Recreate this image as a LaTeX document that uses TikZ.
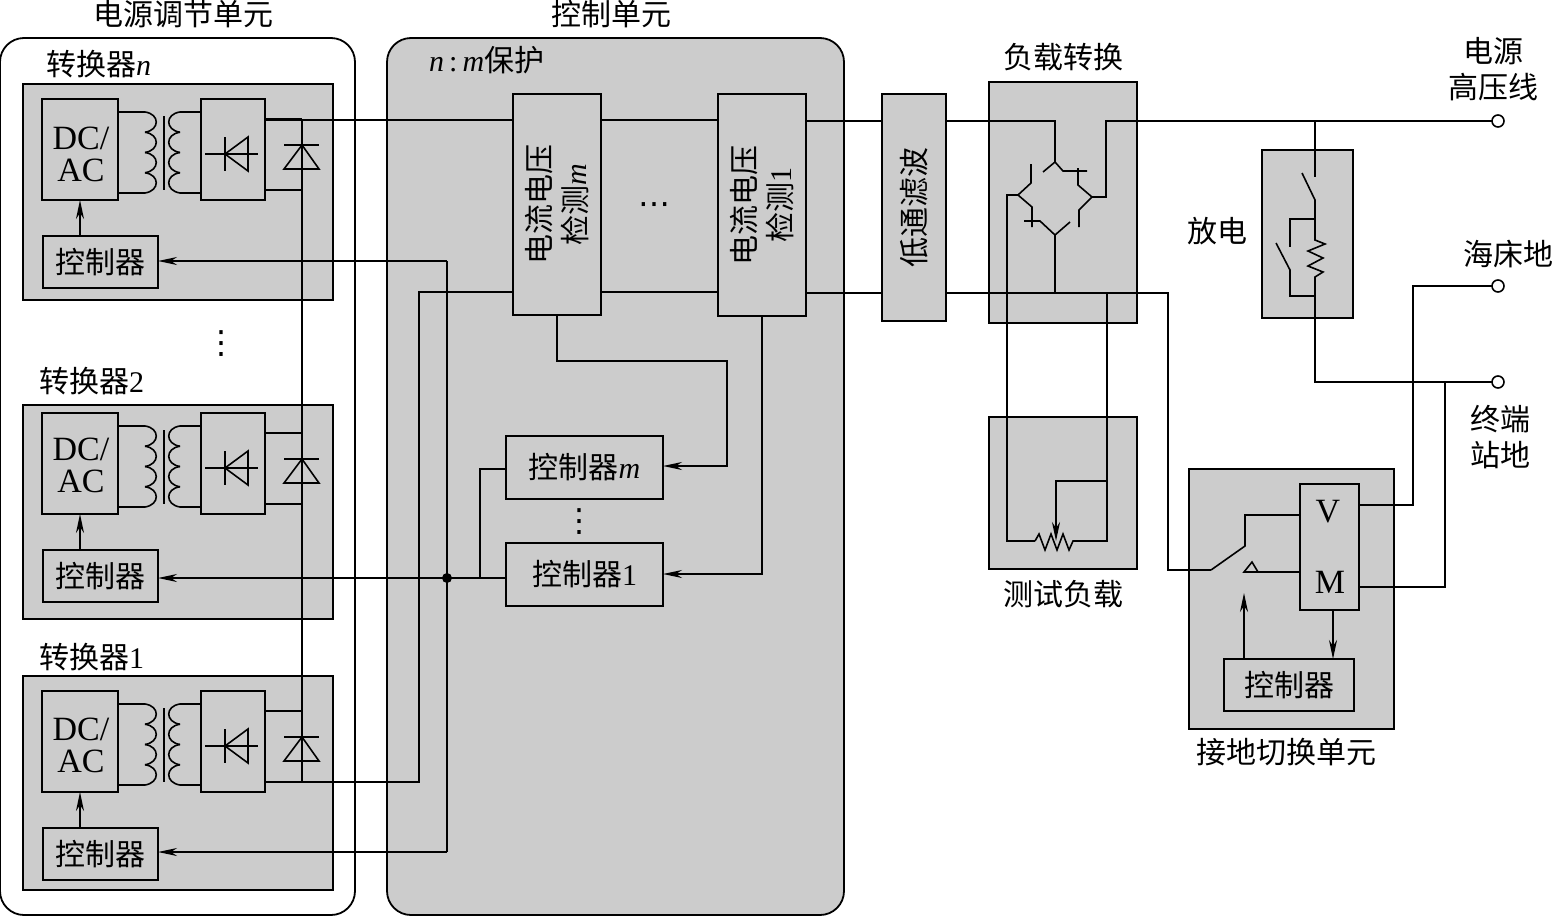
\documentclass[tikz,border=0pt]{standalone}
\usepackage{fontspec}
\setmainfont{Liberation Serif}
\newfontfamily\cjk{Noto Sans CJK SC}
\newfontfamily\symfont{DejaVu Sans}
\usetikzlibrary{arrows.meta,positioning,calc}
\definecolor{panelgray}{RGB}{204,204,204}
\newcommand{\vr}[1]{{\rmfamily\itshape #1}}
\tikzset{
  wire/.style={line width=1.6pt, black},
  thickwire/.style={line width=2.2pt, black},
  arr/.style={-{Stealth[length=19pt,width=8pt,inset=6pt]}, line width=1.6pt, black},
  panel/.style={draw=black, fill=panelgray, line width=1.8pt, anchor=north west, inner sep=0pt, outer sep=0pt},
  outerunit/.style={draw=black, line width=1.8pt, rounded corners=24pt, anchor=north west, inner sep=0pt, outer sep=0pt},
  latin/.style={align=center, inner sep=0pt, font=\fontsize{34}{32}\selectfont},
  ctrlbox/.style={panel, align=center, font=\cjk\fontsize{30}{32}\selectfont},
  lab/.style={font=\cjk\fontsize{30}{36}\selectfont, align=center, inner sep=0pt},
  vlab/.style={lab, rotate=90},
  dotslab/.style={font=\symfont\fontsize{32}{32}\selectfont, inner sep=0pt},
  term/.style={circle, draw=black, fill=white, line width=1.6pt, minimum size=12pt, inner sep=0pt, outer sep=0pt}
}

\begin{document}
\begin{tikzpicture}[x=1pt,y=-1pt]
  \useasboundingbox (0,0) rectangle (1552,916);
  % outer units
  \node[outerunit, minimum width=355pt, minimum height=877pt] (power) at (0,38) {};
  \node[outerunit, fill=panelgray, minimum width=457pt, minimum height=877pt] (ctrlunit) at (387,38) {};
  \node[lab] (powerlab) at (183,14) {电源调节单元};
  \node[lab] (ctrlunitlab) at (611,14) {控制单元};
  \node[lab, anchor=west] (protlab) at (429,60) {{\vr{n}\rmfamily\,:\,\vr{m}}保护};

  % converters
  \foreach \id/\top/\high/\T/\lx/\ly/\dcy/\name in {n/84/216/99/46/64/55/{转换器\vr{n}},
                                              b/405/214/413/39/381/52/{转换器{\rmfamily 2}},
                                              a/676/214/691/39/657/54/{转换器{\rmfamily 1}}} {
    \node[panel, minimum width=310pt, minimum height=\high pt] (conv\id) at (23,\top) {};
    \node[lab, anchor=west] (conv\id lab) at (\lx,\ly) {\name};
    \node[panel, minimum width=76pt, minimum height=101pt] (dc\id) at (42,\T) {};
    \node[latin] (dc\id lab) at (81,\T+\dcy) {DC/\\AC};
    \node[panel, minimum width=64pt, minimum height=101pt] (rect\id) at (201,\T) {};
    \node[ctrlbox, minimum width=115pt, minimum height=52pt] (ctrl\id) at (43,\T+137) {控制器};
    % transformer
    \draw[wire] (118,\T+13) -- (145,\T+13) (118,\T+94) -- (145,\T+94);
    \draw[wire] (201,\T+13) -- (180,\T+13) (201,\T+94) -- (180,\T+94);
    \draw[wire] (164,\T+17) -- (164,\T+91);
    \foreach \i in {0,1,2,3} {
      \draw[wire] (145,\T+13+20.25*\i) .. controls (160,\T+15+20.25*\i) and (160,\T+31+20.25*\i) .. (145,\T+33.25+20.25*\i);
      \draw[wire] (180,\T+13+20.25*\i) .. controls (165,\T+15+20.25*\i) and (165,\T+31+20.25*\i) .. (180,\T+33.25+20.25*\i);
    }
    % rectifier symbol
    \draw[wire] (205,\T+55) -- (258,\T+55);
    \draw[wire] (225,\T+38) -- (225,\T+72);
    \draw[wire] (225,\T+55) -- (248,\T+38) -- (248,\T+72) -- cycle;
    % free wheel diode
    \draw[wire] (284,\T+46) -- (319,\T+46);
    \draw[wire] (302,\T+46) -- (284,\T+70) -- (319,\T+70) -- cycle;
    \draw[wire] (rect\id.north east) ++(0,20) -- ++(37,0);
    \draw[wire] (rect\id.north east) ++(0,91) -- ++(37,0);
    \draw[arr] (dc\id.south |- ctrl\id.north) -- (dc\id.south);
  }
  \node[dotslab] (vdotsa) at (221,344) {⋮};

  % control unit
  \node[panel, minimum width=88pt, minimum height=221pt] (sensm) at (513,94) {};
  \node[panel, minimum width=88pt, minimum height=222pt] (senso) at (718,94) {};
  \node[vlab] (sensmlab) at (sensm.center) {电流电压\\检测\vr{m}};
  \node[vlab] (sensolab) at (senso.center) {电流电压\\检测{\rmfamily 1}};
  \node[dotslab] (hdots) at (654,209) {⋯};
  \node[ctrlbox, minimum width=157pt, minimum height=63pt] (ctrlpm) at (506,436) {控制器\vr{m}};
  \node[ctrlbox, minimum width=157pt, minimum height=63pt] (ctrlpo) at (506,543) {控制器{\rmfamily 1}};
  \node[dotslab] (vdotsb) at (579,522) {⋮};

  % right hand units
  \node[panel, minimum width=64pt, minimum height=227pt] (filter) at (882,94) {};
  \node[vlab] (filterlab) at (filter.center) {低通滤波};
  \node[panel, minimum width=148pt, minimum height=241pt] (bridge) at (989,82) {};
  \node[lab] (bridgelab) at (1063,57) {负载转换};
  \node[panel, minimum width=148pt, minimum height=152pt] (load) at (989,417) {};
  \node[lab] (loadlab) at (1063,594) {测试负载};
  \node[panel, minimum width=91pt, minimum height=168pt] (dump) at (1262,150) {};
  \node[lab] (dumplab) at (1217,231) {放电};
  \node[panel, minimum width=205pt, minimum height=260pt] (gnd) at (1189,469) {};
  \node[lab] (gndlab) at (1286,752) {接地切换单元};
  \node[panel, minimum width=59pt, minimum height=126pt] (vm) at (1300,484) {};
  \node[latin] (vlabel) at (1328,512) {V};
  \node[latin] (mlabel) at (1330,582) {M};
  \node[ctrlbox, minimum width=130pt, minimum height=52pt] (ctrlg) at (1224,659) {控制器};

  % terminals
  \node[term] (hv) at (1498,121) {};
  \node[term] (sea) at (1498,286) {};
  \node[term] (stn) at (1498,382) {};
  \node[lab] (hvlab) at (1493,69) {电源\\高压线};
  \node[lab] (sealab) at (1508,254) {海床地};
  \node[lab] (stnlab) at (1500,437) {终端\\站地};

  % junctions
  \coordinate (bridgetop) at (1055,162);
  \coordinate (bridgeleft) at (1018,195);
  \coordinate (bridgeright) at (1092,197);
  \coordinate (bridgebot) at (1055,235);
  \coordinate (busjoin) at (447,578);
  \coordinate (busn) at (447,261);
  \coordinate (busa) at (447,852);
  \coordinate (swin) at (1211,570);
  \coordinate (wiper) at (1056,481);

  % main lines
  \draw[wire] (265,120) -- (sensm.west |- 0,120);
  \draw[wire] (sensm.east |- 0,120) -- (senso.west |- 0,120);
  \draw[wire] (senso.east |- 0,121) -- (filter.west |- 0,121);
  \draw[wire] (filter.east |- 0,121) -- (1055,121) -- (bridgetop);
  \draw[wire] (302,119) -- (302,782);
  \draw[wire] (302,782) -- (419,782) -- (419,292) -- (sensm.west |- 0,292);
  \draw[thickwire] (sensm.east |- 0,292) -- (senso.west |- 0,292);
  \draw[thickwire] (senso.east |- 0,293) -- (filter.west |- 0,293);
  \draw[wire] (filter.east |- 0,293) -- (1168,293) -- (1168,570) -- (swin);
  \draw[wire] (bridgebot) -- (1055,293);

  % control lines
  \draw[wire] (busn) -- (busa);
  \draw[arr] (busn) -- (busn -| ctrln.east);
  \draw[arr] (busjoin) -- (busjoin -| ctrlb.east);
  \draw[arr] (busa) -- (busa -| ctrla.east);
  \draw[wire] (busjoin) -- (busjoin -| ctrlpo.west);
  \draw[wire] (480,578) -- (480,469) -- (ctrlpm.west |- 0,469);
  \fill (busjoin) circle (5pt);
  \draw[arr] (sensm.south) -- (557,361) -- (727,361) -- (727,466) -- (ctrlpm.east |- 0,466);
  \draw[arr] (senso.south) -- (762,574) -- (ctrlpo.east |- 0,574);

  % bridge
  \draw[wire] (1031,164) -- (1031,183) -- (bridgeleft) -- (1032,207) -- (1032,227);
  \draw[wire] (1043,172) -- (bridgetop) -- (1063,171) -- (1087,171);
  \draw[wire] (1078,168) -- (1078,185) -- (bridgeright) -- (1079,210) -- (1079,227);
  \draw[wire] (1070,222) -- (bridgebot) -- (1040,221) -- (1024,221);
  \draw[thickwire] (bridgeright) -- (1106,197) -- (1106,121) -- (hv.west);
  \draw[thickwire] (bridgeleft) -- (1007,195) -- (1007,541) -- (1035,541);

  % test load
  \draw[wire] (1035,541) -- (1039,534) -- (1045,550) -- (1051,534) -- (1057,550) -- (1063,534) -- (1069,550) -- (1073,541) -- (1107,541) -- (1107,293);
  \draw[arr] (1107,481) -- (wiper) -- (1056,541);

  % discharge branch
  \draw[wire] (1315,121) -- (1315,177);
  \draw[wire] (1302,173) -- (1315,200) -- (1315,240) -- (1325,244) -- (1308,251) -- (1323,258) -- (1308,266) -- (1323,272) -- (1315,277) -- (1315,382) -- (stn.west);
  \draw[wire] (1315,219) -- (1290,219) -- (1290,247);
  \draw[wire] (1276,243) -- (1290,270) -- (1290,296) -- (1315,296);

  % ground switch
  \draw[wire] (swin) -- (1245,546) -- (1245,515) -- (vm.west |- 0,515);
  \draw[wire] (1244,572) -- (1252,562) -- (1258,572) -- cycle;
  \draw[wire] (1258,572) -- (vm.west |- 0,572);
  \draw[arr] (1244,659) -- (1244,593);
  \draw[arr] (1333,610) -- (1333,659);
  \draw[wire] (vm.east |- 0,505) -- (1413,505) -- (1413,286) -- (sea.west);
  \draw[wire] (vm.east |- 0,587) -- (1445,587) -- (1445,382);
\end{tikzpicture}
\end{document}
